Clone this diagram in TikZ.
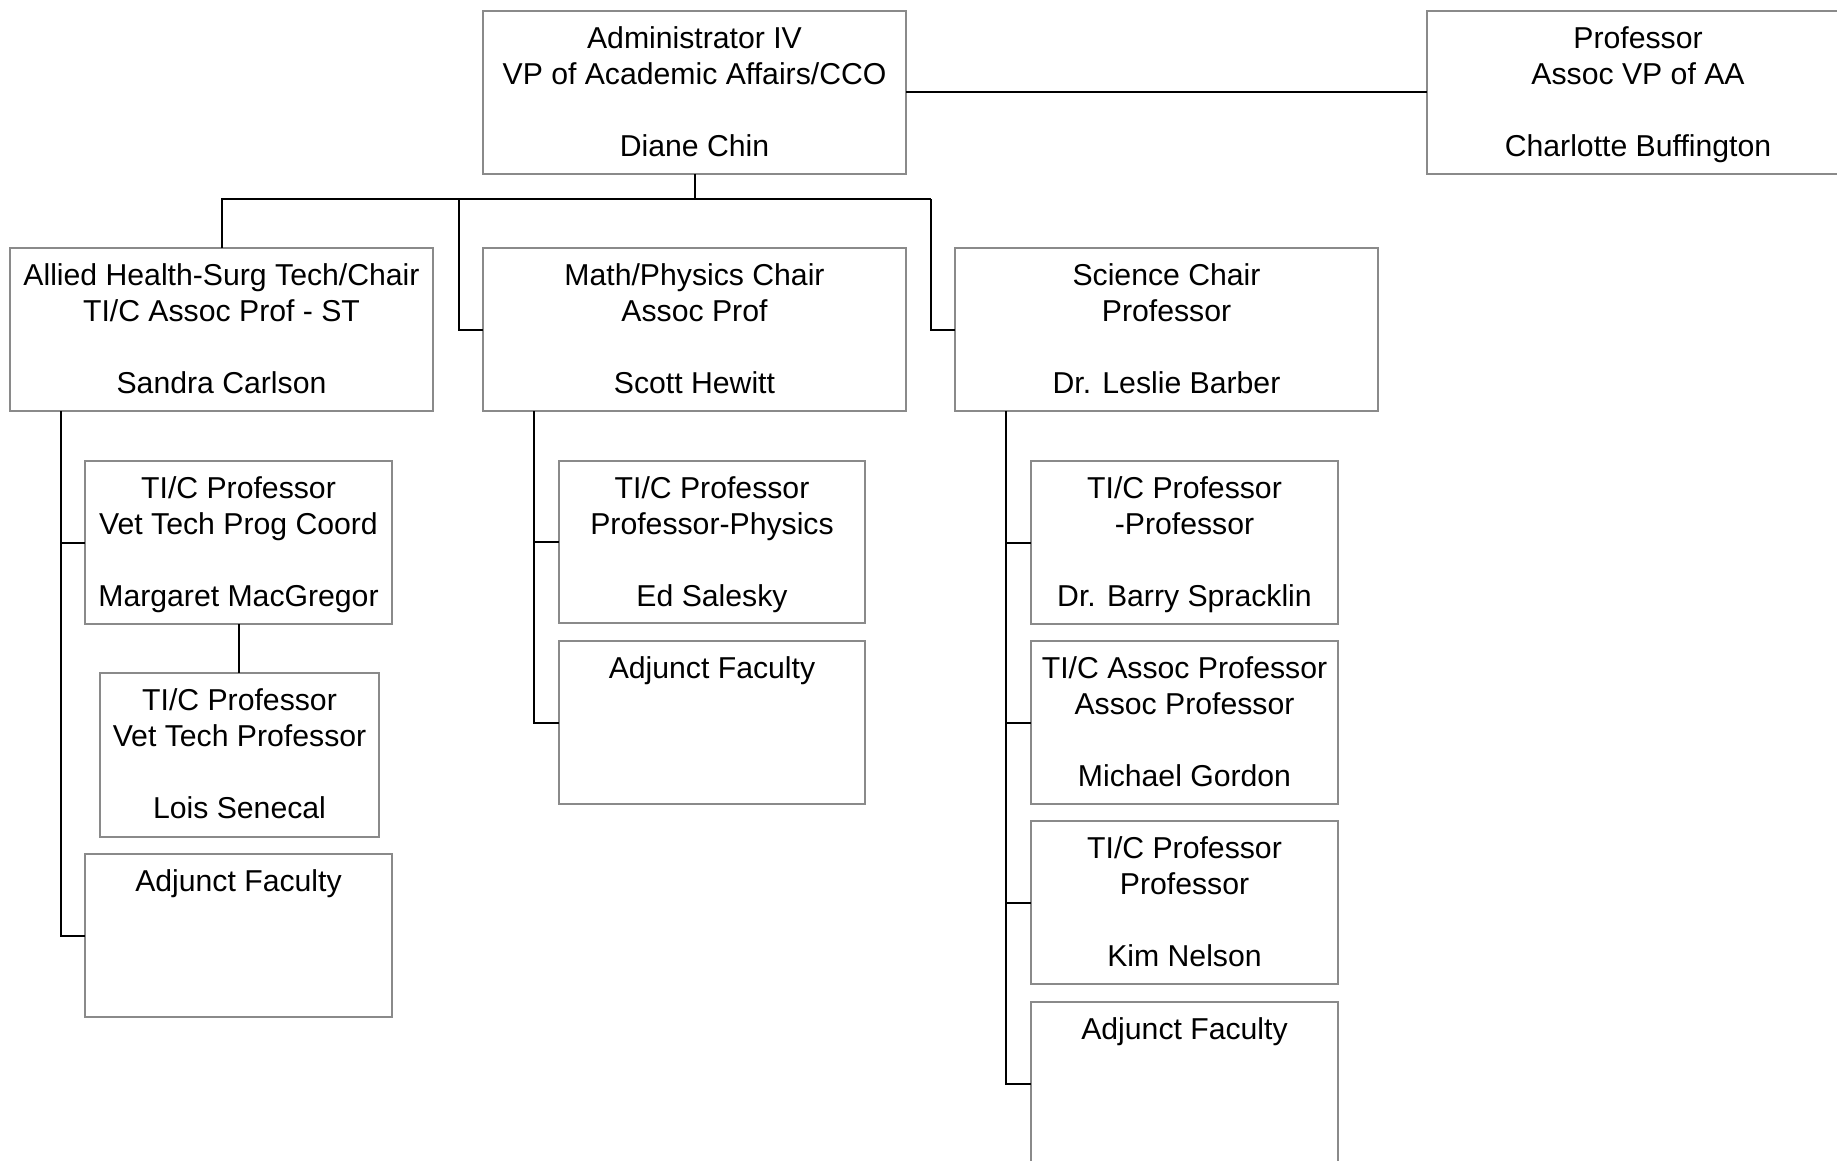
\documentclass[tikz,border=0pt]{standalone}
\usepackage{fontspec}
\setmainfont{Liberation Sans}
\definecolor{boxgray}{HTML}{8A8A8A}
\newcommand\orgbox[5]{%
  \node[orgbox, minimum width={((#4)-(#2))*0.5pt}, minimum height={((#5)-(#3))*0.5pt}]
    (#1) at ({((#2)+(#4))/2},{((#3)+(#5))/2}) {};}
\newcommand\orgtext[2]{%
  \node[txt] (#1-t) at ([yshift=-5.9pt]#1.north) {\strut #2};}
\begin{document}
\begin{tikzpicture}[x=0.5pt,y=-0.5pt,
  orgbox/.style={draw=boxgray, line width=1pt, rectangle, inner sep=0pt, outer sep=0pt, fill=white},
  txt/.style={anchor=north, inner sep=0pt, align=center, font=\fontsize{15.1}{18}\selectfont},
  conn/.style={draw=black, line width=1pt}]
\useasboundingbox (0,0) rectangle (1837,1161);
\clip (0,0) rectangle (1837,1161);
\fill[white] (0,0) rectangle (1837,1161);

% boxes
\orgbox{admin}{483}{11}{906}{174}
\orgbox{prof}{1427}{11}{1849}{174}
\orgbox{allied}{10}{248}{433}{411}
\orgbox{math}{483}{248}{906}{411}
\orgbox{sci}{955}{248}{1378}{411}
\orgbox{marg}{85}{461}{392}{624}
\orgbox{lois}{100}{673}{379}{837}
\orgbox{adjL}{85}{854}{392}{1017}
\orgbox{ed}{559}{461}{865}{623}
\orgbox{adjM}{559}{641}{865}{804}
\orgbox{barry}{1031}{461}{1338}{624}
\orgbox{gordon}{1031}{641}{1338}{804}
\orgbox{kim}{1031}{821}{1338}{984}
\orgbox{adjS}{1031}{1002}{1338}{1165}

% texts
\orgtext{admin}{Administrator IV\\VP of Academic Affairs/CCO\\ \\Diane Chin}
\orgtext{prof}{Professor\\Assoc VP of AA\\ \\Charlotte Buffington}
\orgtext{allied}{Allied Health-Surg Tech/Chair\\TI/C Assoc Prof - ST\\ \\Sandra Carlson}
\orgtext{math}{Math/Physics Chair\\Assoc Prof\\ \\Scott Hewitt}
\orgtext{sci}{Science Chair\\Professor\\ \\Dr. Leslie Barber}
\orgtext{marg}{TI/C Professor\\Vet Tech Prog Coord\\ \\Margaret MacGregor}
\orgtext{lois}{TI/C Professor\\Vet Tech Professor\\ \\Lois Senecal}
\orgtext{adjL}{Adjunct Faculty}
\orgtext{ed}{TI/C Professor\\Professor-Physics\\ \\Ed Salesky}
\orgtext{adjM}{Adjunct Faculty}
\orgtext{barry}{TI/C Professor\\-Professor\\ \\Dr. Barry Spracklin}
\orgtext{gordon}{TI/C Assoc Professor\\Assoc Professor\\ \\Michael Gordon}
\orgtext{kim}{TI/C Professor\\Professor\\ \\Kim Nelson}
\orgtext{adjS}{Adjunct Faculty}

% connector points
\coordinate (mathdrop) at (459,199);
\coordinate (scidrop) at (931,199);
\coordinate (lA) at (61,411);
\coordinate (lM) at (534,411);
\coordinate (lS) at (1006,411);

% connectors
\draw[conn] (admin.east) -- (prof.west);
\draw[conn] (admin.south) -- (admin.south |- scidrop);
\draw[conn] (allied.north) |- (scidrop);
\draw[conn] (mathdrop) |- (math.west);
\draw[conn] (scidrop) |- (sci.west);

\draw[conn] (lA) |- (adjL.west);
\draw[conn] (lA |- marg.west) -- (marg.west);
\draw[conn] (marg.south) -- (marg.south |- lois.north);

\draw[conn] (lM) |- (adjM.west);
\draw[conn] (lM |- ed.west) -- (ed.west);

\draw[conn] (lS) |- (adjS.west);
\draw[conn] (lS |- barry.west) -- (barry.west);
\draw[conn] (lS |- gordon.west) -- (gordon.west);
\draw[conn] (lS |- kim.west) -- (kim.west);
\end{tikzpicture}
\end{document}
